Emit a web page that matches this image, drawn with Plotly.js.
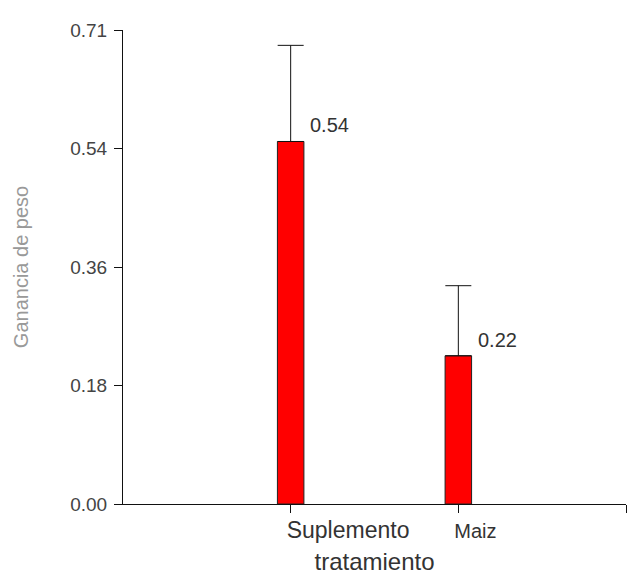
<!DOCTYPE html>
<html>
<head>
<meta charset="utf-8">
<script src="https://cdn.plot.ly/plotly-3.0.1.min.js"></script>
<style>html,body{margin:0;padding:0;background:#fff;}#chart{width:628px;height:575px;}</style>
</head>
<body>
<div id="chart"></div>
<script>
// Data
var categories = ['Suplemento', 'Maiz'];
var categoryPos = [0, 1];
var means = [0.543, 0.222];
var errUpper = [0.144, 0.105];
var valueLabels = ['0.54', '0.22'];
var yTickVals = [0, 0.1775, 0.355, 0.5325, 0.71];
var yTickText = ['0.00', '0.18', '0.36', '0.54', '0.71'];
var xTickVals = [0, 1, 2];
var xTickText = ['Suplemento', '<span style="font-size:20px">Maiz</span>', ''];

var FONT = 'Liberation Sans, Arial, sans-serif';

var trace = {
  type: 'bar',
  x: categoryPos,
  y: means,
  width: 0.158,
  marker: {color: '#ff0000', line: {color: '#222', width: 1}},
  error_y: {type: 'data', symmetric: false, array: errUpper, arrayminus: [0, 0],
            color: '#111', thickness: 1, width: 13},
  hoverinfo: 'none'
};

var annotations = categoryPos.map(function (p, i) {
  return {x: p + 0.105, y: means[i], xref: 'x', yref: 'y', text: valueLabels[i],
          showarrow: false, xanchor: 'left', yanchor: 'bottom', yshift: 3,
          font: {family: FONT, size: 20, color: '#333'}};
});

var layout = {
  width: 628, height: 575,
  margin: {l: 123, r: 2, t: 30, b: 71},
  paper_bgcolor: '#fff', plot_bgcolor: '#fff',
  font: {family: FONT, color: '#333'},
  showlegend: false,
  xaxis: {
    range: [-1, 2], tickmode: 'array', tickvals: xTickVals, ticktext: xTickText,
    showgrid: false, zeroline: false, showline: true, linecolor: '#111', linewidth: 1,
    ticks: 'outside', ticklen: 8, tickcolor: '#111', tickwidth: 1,
    ticklabelposition: 'outside right', ticklabelshift: -5, ticklabelstandoff: 5,
    tickfont: {family: FONT, size: 23, color: '#333'},
    title: {text: 'tratamiento', font: {family: FONT, size: 24, color: '#333'}, standoff: 14}
  },
  yaxis: {
    range: [0, 0.71], tickmode: 'array', tickvals: yTickVals, ticktext: yTickText,
    showgrid: false, zeroline: false, showline: true, linecolor: '#111', linewidth: 1,
    ticks: 'outside', ticklen: 8, tickcolor: '#111', tickwidth: 1,
    ticklabelstandoff: 3,
    tickfont: {family: FONT, size: 19, color: '#444'},
    title: {text: 'Ganancia de peso', font: {family: FONT, size: 20, color: '#999'}, standoff: 36}
  },
  annotations: annotations
};

Plotly.newPlot('chart', [trace], layout, {displayModeBar: false, staticPlot: true});
</script>
</body>
</html>
